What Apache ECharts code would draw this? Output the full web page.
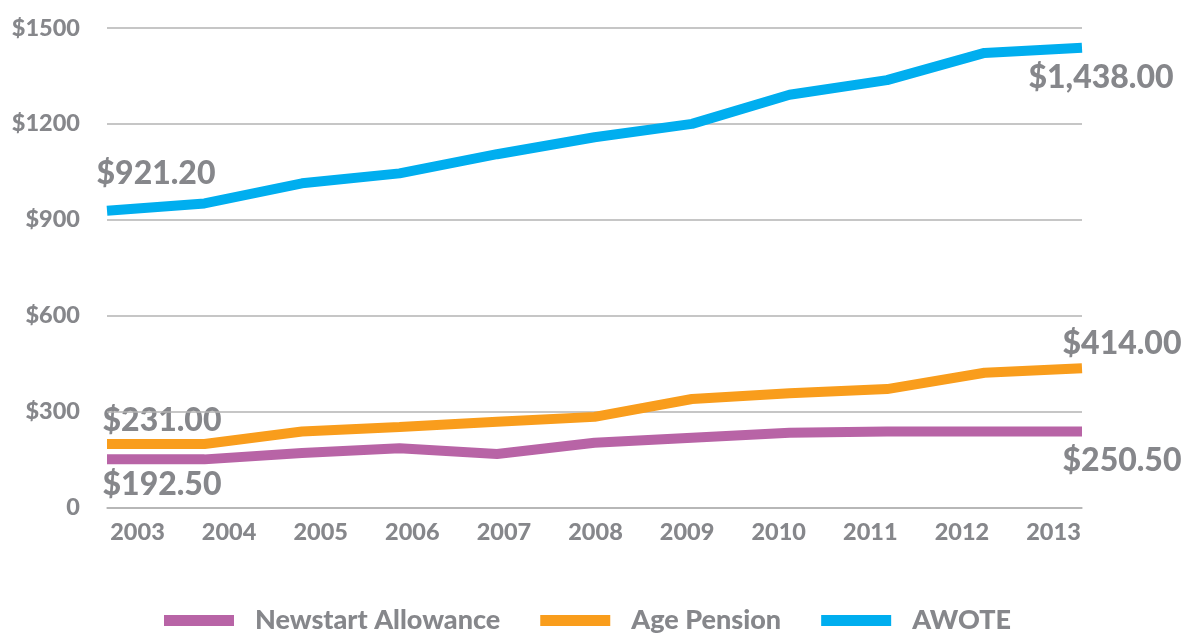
<!DOCTYPE html>
<html>
<head>
<meta charset="utf-8">
<script src="https://cdn.jsdelivr.net/npm/echarts@6/dist/echarts.min.js"></script>
<style>
html,body{margin:0;padding:0;background:#fff;}
#chart{width:1184px;height:635px;}
</style>
</head>
<body>
<div id="chart"></div>
<script>
const years = ['2003','2004','2005','2006','2007','2008','2009','2010','2011','2012','2013'];
const newstart = [150, 150, 170, 185, 167, 202, 218, 233, 237, 237, 237];
const agePension = [198, 198, 237, 251, 268, 283, 339, 357, 370, 421, 435];
const awote = [928, 951, 1014, 1045, 1105, 1158, 1200, 1291, 1337, 1422, 1438];
const seriesNames = ['Newstart Allowance', 'Age Pension', 'AWOTE'];
const yTicks = [0, 300, 600, 900, 1200, 1500];
const annotations = ['$921.20', '$1,438.00', '$414.00', '$250.50', '$231.00', '$192.50'];

const gray = '#86878b';
const colors = ['#b864a6', '#f99d1c', '#00aeef'];
const font = 'Lato, "Open Sans", sans-serif';
const weight = 900;

const annPos = [[156,174],[1101,78],[1122,344],[1122,461],[162,421],[162,485]];

const chart = echarts.init(document.getElementById('chart'));
chart.setOption({
  animation: false,
  backgroundColor: '#fff',
  color: colors,
  grid: [
    {left: 107, right: 102, top: 28, height: 479.3, containLabel: false},
    {left: 137.5, right: 130.5, top: 28, height: 479.3, containLabel: false}
  ],
  xAxis: [
    {type: 'category', gridIndex: 0, data: years, boundaryGap: false,
     axisLine: {show: true, lineStyle: {color: '#b3b3b3', width: 1.5}},
     axisTick: {show: false}, axisLabel: {show: false}, splitLine: {show: false}},
    {type: 'category', gridIndex: 1, data: years, boundaryGap: false,
     axisLine: {show: false}, axisTick: {show: false},
     axisLabel: {color: gray, fontFamily: font, fontWeight: weight, fontSize: 23.5, margin: 13}}
  ],
  yAxis: [
    {type: 'value', gridIndex: 0, min: yTicks[0], max: yTicks[yTicks.length-1], interval: yTicks[1]-yTicks[0],
     axisLine: {show: false}, axisTick: {show: false},
     axisLabel: {color: gray, fontFamily: font, fontWeight: weight, fontSize: 23.5, margin: 27,
       formatter: v => v === 0 ? '0' : '$' + v},
     splitLine: {lineStyle: {color: '#b3b3b3', width: 1.5}}},
    {type: 'value', gridIndex: 1, min: 0, max: 1500, show: false}
  ],
  legend: {
    top: 602, left: 159,
    itemWidth: 70, itemHeight: 11, itemGap: 40,
    icon: 'rect',
    data: seriesNames,
    textStyle: {color: gray, fontFamily: font, fontWeight: weight, fontSize: 27, padding: [0,0,0,16]}
  },
  graphic: annotations.map((t, i) => ({
    type: 'text', x: annPos[i][0], y: annPos[i][1],
    style: {text: t, fill: gray, font: weight + ' 32px ' + font, align: 'center', verticalAlign: 'middle',
            textAlign: 'center', textVerticalAlign: 'middle'}
  })),
  series: [
    {name: seriesNames[0], type: 'line', data: newstart, xAxisIndex: 0, yAxisIndex: 0, showSymbol: false, symbol: 'none',
     lineStyle: {width: 10, color: colors[0]}, itemStyle: {color: colors[0]}},
    {name: seriesNames[1], type: 'line', data: agePension, xAxisIndex: 0, yAxisIndex: 0, showSymbol: false, symbol: 'none',
     lineStyle: {width: 10, color: colors[1]}, itemStyle: {color: colors[1]}},
    {name: seriesNames[2], type: 'line', data: awote, xAxisIndex: 0, yAxisIndex: 0, showSymbol: false, symbol: 'none',
     lineStyle: {width: 10, color: colors[2]}, itemStyle: {color: colors[2]}}
  ]
});
</script>
</body>
</html>
